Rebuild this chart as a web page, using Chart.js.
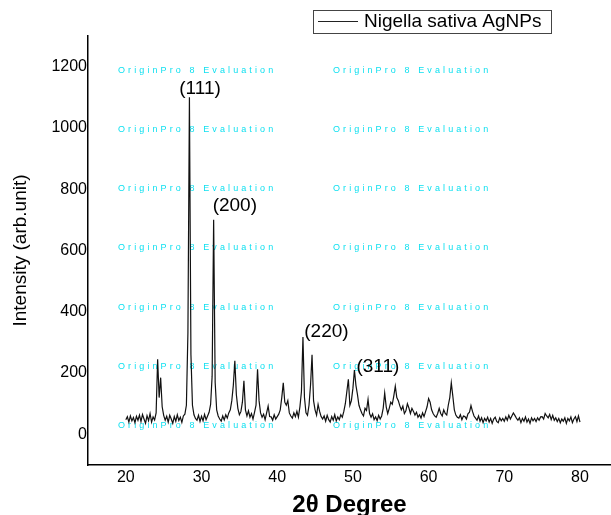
<!DOCTYPE html>
<html>
<head>
<meta charset="utf-8">
<script src="https://cdn.jsdelivr.net/npm/chart.js@4/dist/chart.umd.min.js"></script>
<style>
  html, body { margin: 0; padding: 0; background: #fff; }
  #wrap { position: relative; width: 611px; height: 515px; }
</style>
</head>
<body>
<div id="wrap"><canvas id="xrd"></canvas></div>
<script>
// Patrón XRD: ángulos de 20 a 80 cada 0.2 grados
const startAngle = 20;
const angleStep = 0.2;
const intensity = [
  // 20.0 - 21.8
  48, 58, 40, 60, 44, 55, 38, 59, 46, 63,
  // 22.0 - 23.8
  42, 65, 50, 36, 61, 45, 68, 40, 57, 47,
  // 24.0 - 25.8
  70, 245, 120, 185, 90, 62, 46, 59, 40, 62,
  // 26.0 - 27.8
  50, 36, 58, 43, 64, 45, 56, 39, 60, 66,
  // 28.0 - 29.8
  95, 330, 1100, 260, 95, 64, 52, 46, 62, 42,
  // 30.0 - 31.8
  59, 44, 65, 48, 60, 72, 98, 190, 700, 170,
  // 32.0 - 33.8
  80, 60, 50, 43, 60, 47, 64, 53, 70, 80,
  // 34.0 - 35.8
  110, 160, 240, 130, 85, 64, 74, 105, 175, 80,
  // 36.0 - 37.8
  60, 77, 56, 68, 50, 72, 95, 212, 110, 70,
  // 38.0 - 39.8
  56, 66, 48, 70, 92, 58, 57, 46, 64, 50,
  // 40.0 - 41.8
  58, 66, 80, 120, 168, 105, 95, 110, 70, 60,
  // 42.0 - 43.8
  53, 70, 58, 75, 56, 90, 140, 318, 120, 70,
  // 44.0 - 45.8
  62, 95, 160, 260, 110, 80, 63, 98, 75, 58,
  // 46.0 - 47.8
  50, 60, 43, 62, 48, 40, 58, 46, 64, 44,
  // 48.0 - 49.8
  57, 48, 64, 56, 75, 100, 140, 180, 95, 110,
  // 50.0 - 51.8
  150, 210, 160, 130, 95, 80, 68, 60, 85, 78,
  // 52.0 - 53.8
  114, 68, 56, 67, 48, 57, 45, 62, 50, 60,
  // 54.0 - 55.8
  85, 135, 90, 68, 85, 105, 98, 125, 157, 120,
  // 56.0 - 57.8
  110, 93, 80, 92, 68, 77, 100, 86, 68, 85,
  // 58.0 - 59.8
  75, 63, 72, 56, 64, 53, 70, 58, 74, 90,
  // 60.0 - 61.8
  117, 105, 80, 68, 60, 56, 68, 85, 68, 60,
  // 62.0 - 63.8
  80, 68, 63, 95, 120, 168, 125, 80, 63, 56,
  // 64.0 - 65.8
  53, 64, 48, 60, 58, 50, 67, 72, 94, 75,
  // 66.0 - 67.8
  60, 53, 46, 60, 43, 54, 38, 52, 44, 56,
  // 68.0 - 69.8
  40, 52, 36, 50, 56, 42, 38, 54, 44, 52,
  // 70.0 - 71.8
  43, 57, 46, 62, 50, 60, 70, 62, 53, 46,
  // 72.0 - 73.8
  54, 38, 52, 43, 57, 40, 50, 36, 54, 44,
  // 74.0 - 75.8
  52, 42, 54, 46, 57, 58, 50, 68, 60, 54,
  // 76.0 - 77.8
  65, 48, 62, 46, 54, 42, 52, 38, 50, 43,
  // 78.0 - 79.8
  54, 36, 52, 44, 57, 38, 50, 58, 42, 60,
  // 80.0
  40
];

// Etiquetas de los ejes
const xTicks = [20, 30, 40, 50, 60, 70, 80];
const yTicks = [0, 200, 400, 600, 800, 1000, 1200];

// Índices de Miller sobre los picos (posición en coordenadas de datos)
const peakLabels = ['(111)', '(200)', '(220)', '(311)'];
const peakLabelX = [29.8, 34.4, 46.5, 53.3];
const peakLabelY = [1127, 747, 335, 221];

const seriesName = 'Nigella sativa AgNPs';
const watermark = 'OriginPro 8 Evaluation';

const points = intensity.map((v, i) => ({ x: startAngle + i * angleStep, y: v }));

// Marca de agua de la versión de evaluación (en píxeles, como en la figura)
const watermarkPlugin = {
  id: 'watermark',
  beforeDatasetsDraw(chart) {
    const ctx = chart.ctx;
    ctx.save();
    ctx.font = '9px "Liberation Sans", Arial, sans-serif';
    ctx.fillStyle = '#10e0f0';
    ctx.textBaseline = 'middle';
    const cols = [118, 333];
    const rows = [71, 130, 189, 248, 308, 367, 426];
    rows.forEach((y) => {
      cols.forEach((x0) => {
        let x = x0;
        for (const ch of watermark) {
          ctx.fillText(ch, x, y);
          x += ctx.measureText(ch).width + 3.1;
        }
      });
    });
    ctx.restore();
  }
};

// Leyenda con recuadro y etiquetas de los picos
const annotPlugin = {
  id: 'annot',
  afterDatasetsDraw(chart) {
    const ctx = chart.ctx;
    const xs = chart.scales.x, ys = chart.scales.y;
    ctx.save();
    ctx.fillStyle = '#000';
    ctx.font = '19px "Liberation Sans", Arial, sans-serif';
    ctx.textAlign = 'center';
    ctx.textBaseline = 'middle';
    peakLabels.forEach((t, i) => {
      ctx.fillText(t, xs.getPixelForValue(peakLabelX[i]), ys.getPixelForValue(peakLabelY[i]));
    });
    ctx.restore();
  },
  afterDraw(chart) {
    const ctx = chart.ctx;
    ctx.save();
    ctx.strokeStyle = '#444';
    ctx.lineWidth = 1;
    ctx.strokeRect(313.5, 10.5, 238, 23);
    ctx.strokeStyle = '#222';
    ctx.beginPath();
    ctx.moveTo(318, 21.5);
    ctx.lineTo(358, 21.5);
    ctx.stroke();
    ctx.fillStyle = '#000';
    ctx.font = '19px "Liberation Sans", Arial, sans-serif';
    ctx.textBaseline = 'middle';
    ctx.fillText(chart.data.datasets[0].label, 364, 22);
    ctx.restore();
  }
};

const tickFont = { family: '"Liberation Sans", Arial, sans-serif', size: 16 };

new Chart(document.getElementById('xrd'), {
  type: 'line',
  data: {
    datasets: [{
      label: seriesName,
      data: points,
      borderColor: '#111',
      borderWidth: 1.2,
      pointRadius: 0,
      tension: 0
    }]
  },
  options: {
    responsive: true,
    maintainAspectRatio: false,
    devicePixelRatio: 1,
    animation: false,
    layout: { padding: { top: 36, right: 0, left: 0, bottom: 0 } },
    plugins: { legend: { display: false }, tooltip: { enabled: false } },
    scales: {
      x: {
        type: 'linear',
        min: 15,
        max: 84.1,
        afterBuildTicks: (axis) => { axis.ticks = xTicks.map((v) => ({ value: v })); },
        afterFit: (axis) => { axis.height = 50; },
        grid: { display: false, drawTicks: false },
        border: { display: true, color: '#000', width: 1.5 },
        ticks: { color: '#000', font: tickFont, padding: 3, maxRotation: 0, callback: (v) => String(v) },
        title: {
          display: true,
          text: '2θ Degree',
          color: '#000',
          font: { family: '"Liberation Sans", Arial, sans-serif', size: 24, weight: 'bold' },
          padding: { top: 0, bottom: -5 }
        }
      },
      y: {
        min: -100,
        max: 1300,
        afterBuildTicks: (axis) => { axis.ticks = yTicks.map((v) => ({ value: v })); },
        afterFit: (axis) => { axis.width = 88; },
        grid: { display: false, drawTicks: false },
        border: { display: true, color: '#000', width: 1.5 },
        ticks: { color: '#000', font: tickFont, padding: 1, callback: (v) => String(v) },
        title: {
          display: true,
          text: 'Intensity (arb.unit)',
          color: '#000',
          font: { family: '"Liberation Sans", Arial, sans-serif', size: 19 },
          padding: { top: 9, bottom: 0 }
        }
      }
    }
  },
  plugins: [watermarkPlugin, annotPlugin]
});
</script>
</body>
</html>
